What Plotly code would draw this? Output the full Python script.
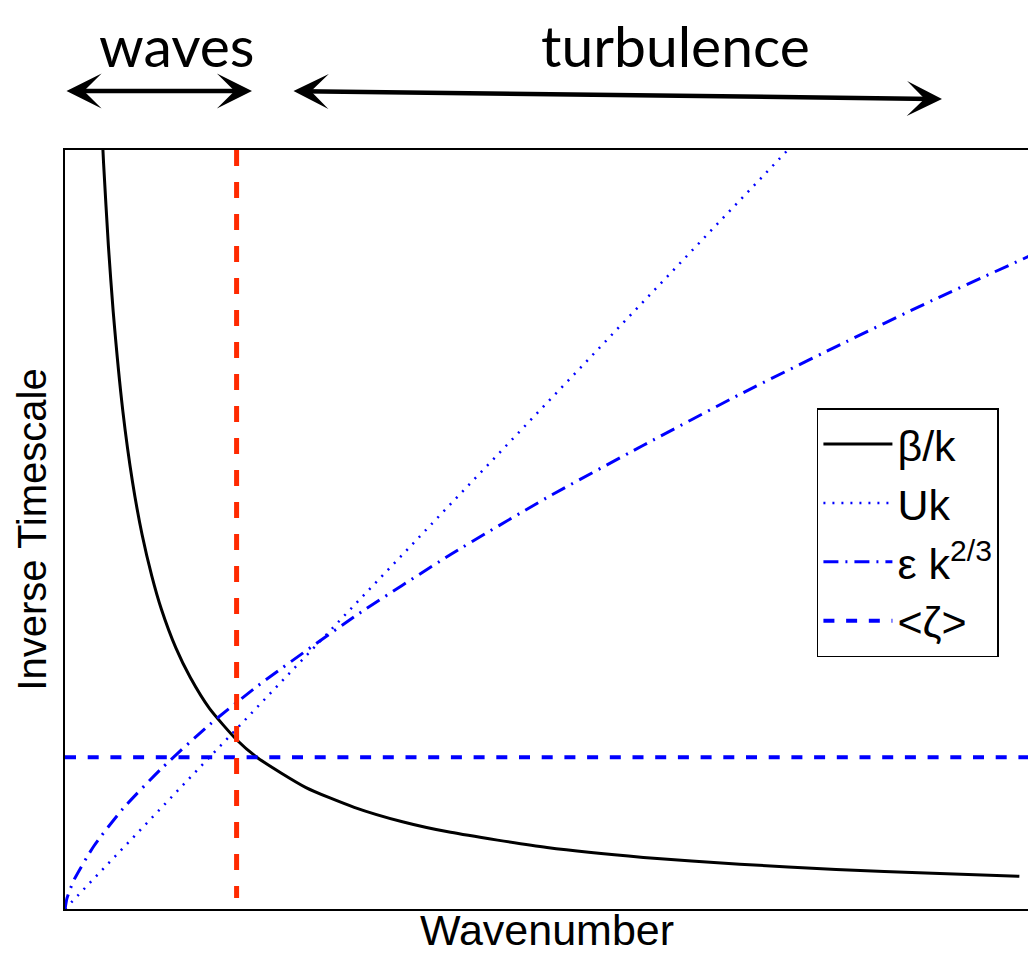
import plotly.graph_objects as go

# ---- data (axes are normalised 0..1, no ticks) ----
k_beta = [0.038, 0.04, 0.045, 0.05, 0.06, 0.07, 0.08, 0.09, 0.10, 0.115, 0.13,
          0.15, 0.178, 0.20, 0.25, 0.30, 0.35, 0.40, 0.50, 0.60, 0.70, 0.80,
          0.90, 0.99]
beta_over_k = [1.035, 0.983, 0.874, 0.787, 0.656, 0.563, 0.493, 0.439, 0.395,
               0.344, 0.305, 0.264, 0.223, 0.199, 0.160, 0.134, 0.115, 0.101,
               0.081, 0.068, 0.059, 0.052, 0.047, 0.043]

k_uk = [0.0, 0.75, 0.80]
uk = [0.0, 1.0, 1.067]

k_eps = [0.0, 0.002, 0.005, 0.01, 0.03, 0.06, 0.10, 0.15, 0.20, 0.30, 0.40,
         0.50, 0.60, 0.70, 0.80, 0.90, 1.0]
eps_k23 = [0.0, 0.014, 0.025, 0.040, 0.083, 0.132, 0.185, 0.243, 0.294, 0.385,
           0.467, 0.542, 0.611, 0.678, 0.741, 0.802, 0.86]

k_zeta = [0.0, 1.0]
zeta_mean = [0.20, 0.20]

k_transition = [0.178, 0.178]
y_transition = [1.0, 0.0145]

names = ["β/k", "Uk", "ε k<sup>2/3</sup>", "&lt;ζ&gt;"]

BLUE = "#0000ff"
RED = "#ff2a00"

fig = go.Figure()
fig.add_trace(go.Scatter(x=k_beta, y=beta_over_k, mode="lines", name=names[0],
                         line=dict(color="black", width=3, shape="spline", smoothing=0.6)))
fig.add_trace(go.Scatter(x=k_uk, y=uk, mode="lines", name=names[1],
                         line=dict(color=BLUE, width=2.5, dash="2px,7px")))
fig.add_trace(go.Scatter(x=k_eps, y=eps_k23, mode="lines", name=names[2],
                         line=dict(color=BLUE, width=3, dash="15px,7px,2px,7px",
                                   shape="spline", smoothing=0.6)))
fig.add_trace(go.Scatter(x=k_zeta, y=zeta_mean, mode="lines", name=names[3],
                         line=dict(color=BLUE, width=4, dash="11px,11.7px")))
fig.add_trace(go.Scatter(x=k_transition, y=y_transition, mode="lines", showlegend=False,
                         line=dict(color=RED, width=5, dash="16px,16px")))

axis_common = dict(range=[0, 1], showgrid=False, zeroline=False, showticklabels=False,
                   ticks="", showline=True, mirror=True, linecolor="black", linewidth=1.5)

fig.update_layout(
    width=1028, height=946,
    margin=dict(l=57, r=7, t=142, b=45, autoexpand=False),
    paper_bgcolor="white", plot_bgcolor="white",
    font=dict(family="Liberation Sans, Arial, sans-serif", color="black"),
    xaxis=dict(axis_common, title=dict(text="Wavenumber", font=dict(size=43), standoff=15)),
    yaxis=dict(axis_common, title=dict(text="Inverse Timescale", font=dict(size=40), standoff=4)),
    legend=dict(x=0.780, y=0.660, xanchor="left", yanchor="top",
                bgcolor="white", bordercolor="black", borderwidth=1.5,
                font=dict(size=43, family="Liberation Sans, Arial, sans-serif"),
                itemwidth=69, tracegroupgap=0),
    showlegend=True,
)

# helpers: convert a position measured on the reference screenshot to paper units
def px_x(p):
    return (p - 65) / 964

def px_y(p):
    return (909 - p) / 759

annos = [
    dict(text="waves", x=px_x(177), y=px_y(9), xref="paper", yref="paper",
         xanchor="center", yanchor="top",
         showarrow=False, font=dict(family="Lato, sans-serif", size=57, color="black")),
    dict(text="turbulence", x=px_x(675), y=px_y(9), xref="paper", yref="paper",
         xanchor="center", yanchor="top",
         showarrow=False, font=dict(family="Lato, sans-serif", size=57, color="black")),
    # waves double arrow
    dict(text="", x=px_x(252), y=px_y(91), xref="paper", yref="paper",
         ax=-187, ay=0, axref="pixel", ayref="pixel", showarrow=True,
         arrowhead=3, startarrowhead=3, arrowside="end+start", arrowwidth=4.5,
         arrowsize=1.3, startarrowsize=1.3, arrowcolor="black", standoff=0, startstandoff=0),
    # turbulence double arrow
    dict(text="", x=px_x(942), y=px_y(99), xref="paper", yref="paper",
         ax=-650, ay=-8, axref="pixel", ayref="pixel", showarrow=True,
         arrowhead=3, startarrowhead=3, arrowside="end+start", arrowwidth=4.5,
         arrowsize=1.3, startarrowsize=1.3, arrowcolor="black", standoff=0, startstandoff=0),
]
fig.update_layout(annotations=annos)

fig.write_html("out.html")
